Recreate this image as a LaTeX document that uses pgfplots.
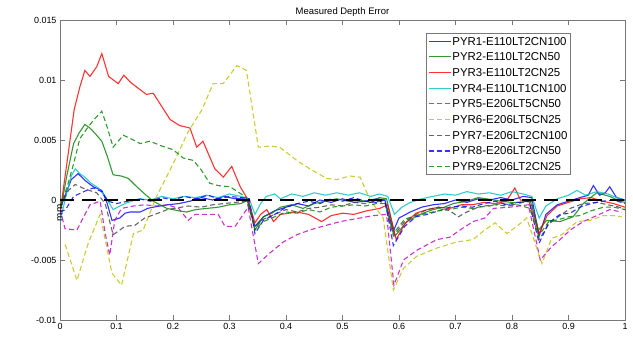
\documentclass[border=0pt]{standalone}
\usepackage{pgfplots}
\pgfplotsset{compat=1.18}
\usepackage{fontspec}
\setmainfont{Liberation Sans}
\definecolor{mgreen}{RGB}{0,128,0}
\definecolor{mcyan}{RGB}{0,191,191}
\definecolor{mmag}{RGB}{191,0,191}
\definecolor{myel}{RGB}{191,191,0}
\definecolor{mgray}{RGB}{64,64,64}
\definecolor{axgray}{RGB}{120,120,120}
\begin{document}
\begin{tikzpicture}
\begin{axis}[
  at={(0,0)}, anchor=south west,
  scale only axis, width=565bp, height=300bp,
  xmin=0, xmax=1, ymin=-0.01, ymax=0.015,
  scaled y ticks=false, scaled x ticks=false,
  xtick={0,0.1,0.2,0.3,0.4,0.5,0.6,0.7,0.8,0.9,1},
  xticklabels={0,0.1,0.2,0.3,0.4,0.5,0.6,0.7,0.8,0.9,1},
  ytick={-0.01,-0.005,0,0.005,0.01,0.015},
  yticklabels={-0.01,-0.005,0,0.005,0.01,0.015},
  tick align=inside, major tick length=5bp,
  xtick pos=both, ytick pos=both,
  axis line style={axgray}, tick style={axgray},
  ticklabel style={font=\fontsize{9}{10}\selectfont},
  every axis title shift=0pt,
  title={Measured Depth Error},
  title style={font=\fontsize{9.5}{11}\selectfont, at={(axis description cs:0.5,1)}, anchor=south, inner sep=2bp, yshift=1bp},
  ylabel={mm},
  ylabel style={font=\fontsize{10}{11}\selectfont, at={(axis description cs:0,0.5)}, anchor=center, xshift=-43bp},
  legend style={at={(axis description cs:0.648,0.957)}, anchor=north west,
    font=\fontsize{11.5}{12}\selectfont, draw=axgray, inner xsep=2bp, inner ysep=3bp,
    nodes={inner sep=1bp, text height=8bp, text depth=0bp}, row sep=5.7bp},
  legend cell align=left,
  legend image code/.code={\draw[#1] (0bp,0bp) -- (22bp,0bp);},
  every axis plot/.append style={line width=1.1bp, opacity=0.8},
]
\addplot[blue] table {
0 -0.0008
0.01 0.0005
0.02 0.0017
0.032 0.0022
0.045 0.0016
0.059 0.0011
0.074 0.0008
0.083 -0.0002
0.092 -0.0017
0.106 -0.0015
0.115 -0.0011
0.124 -0.0010
0.142 -0.0010
0.155 -0.0007
0.165 -0.0006
0.19 -0.0004
0.21 -0.0003
0.23 -0.0001
0.25 0.0002
0.27 0.0000
0.29 0.0003
0.31 0.0001
0.33 0.0002
0.345 -0.0022
0.36 -0.0014
0.38 -0.0009
0.40 -0.0006
0.42 -0.0003
0.44 -0.0005
0.46 0.0000
0.48 -0.0002
0.50 0.0001
0.52 -0.0002
0.54 -0.0001
0.56 0.0001
0.575 0.0000
0.59 -0.0026
0.60 -0.0015
0.62 -0.0010
0.64 -0.0006
0.66 -0.0004
0.68 -0.0003
0.70 0.0000
0.72 -0.0002
0.74 0.0001
0.76 0.0000
0.78 0.0002
0.80 0.0000
0.82 0.0003
0.835 0.0002
0.848 -0.0030
0.86 -0.0012
0.88 -0.0004
0.90 -0.0001
0.92 0.0002
0.935 0.0004
0.944 0.0012
0.955 0.0004
0.965 0.0006
0.973 0.0011
0.985 0.0002
1.0 0.0000
};
\addlegendentry{PYR1-E110LT2CN100}
\addplot[mgreen] table {
0 -0.0011
0.012 0.002
0.024 0.0047
0.034 0.0056
0.044 0.0063
0.053 0.0060
0.063 0.0055
0.074 0.0049
0.084 0.0036
0.094 0.0021
0.108 0.0020
0.121 0.0018
0.136 0.0011
0.15 0.0005
0.165 -0.0001
0.189 -0.0007
0.21 -0.0009
0.224 -0.0010
0.24 -0.0008
0.26 -0.0007
0.28 -0.0006
0.30 -0.0004
0.32 -0.0003
0.333 0.0000
0.345 -0.0025
0.36 -0.0014
0.375 -0.0011
0.39 -0.0006
0.41 -0.0004
0.43 -0.0007
0.45 -0.0003
0.47 -0.0001
0.49 0.0001
0.51 -0.0001
0.53 0.0000
0.55 -0.0002
0.565 0.0002
0.578 0.0001
0.593 -0.0030
0.614 -0.0018
0.637 -0.0012
0.66 -0.0008
0.68 -0.0006
0.696 -0.0003
0.72 -0.0001
0.74 0.0002
0.755 0.0001
0.78 -0.0001
0.80 -0.0002
0.814 -0.0002
0.832 0.0000
0.847 -0.0025
0.861 -0.0017
0.885 -0.0018
0.908 -0.0014
0.926 -0.0003
0.95 0.0006
0.973 0.0003
0.991 -0.0001
1.0 -0.0002
};
\addlegendentry{PYR2-E110LT2CN50}
\addplot[red] table {
0 -0.0011
0.012 0.0030
0.025 0.0075
0.035 0.0094
0.044 0.0108
0.053 0.0103
0.065 0.0111
0.074 0.0122
0.086 0.0103
0.103 0.0097
0.113 0.0104
0.125 0.0098
0.136 0.0094
0.153 0.0088
0.165 0.0089
0.18 0.0078
0.195 0.0067
0.212 0.0062
0.23 0.0060
0.242 0.0044
0.253 0.0049
0.274 0.0026
0.289 0.0019
0.304 0.0028
0.319 0.0011
0.333 0.0000
0.345 -0.0019
0.355 -0.0012
0.366 -0.0008
0.378 -0.0018
0.39 -0.0012
0.405 -0.0011
0.419 -0.0010
0.44 -0.0012
0.463 -0.0018
0.48 -0.0013
0.50 -0.0011
0.52 -0.0012
0.543 -0.0009
0.566 -0.0007
0.58 -0.0004
0.595 -0.0033
0.61 -0.0020
0.63 -0.0011
0.65 -0.0008
0.67 -0.0006
0.69 -0.0007
0.71 -0.0004
0.73 -0.0004
0.75 -0.0002
0.77 -0.0003
0.79 -0.0001
0.805 0.0010
0.815 0.0000
0.83 -0.0001
0.848 -0.0028
0.862 -0.0013
0.88 -0.0005
0.90 -0.0002
0.92 0.0001
0.94 0.0002
0.96 -0.0001
0.98 -0.0003
1.0 -0.0006
};
\addlegendentry{PYR3-E110LT2CN25}
\addplot[mcyan] table {
0 -0.0018
0.01 0.0002
0.02 0.0020
0.027 0.0026
0.035 0.0022
0.044 0.0019
0.055 0.0014
0.068 0.0010
0.08 0.0003
0.094 -0.0008
0.106 -0.0005
0.12 -0.0002
0.14 0.0001
0.16 0.0000
0.18 0.0003
0.20 0.0001
0.22 0.0003
0.24 0.0002
0.26 0.0004
0.28 0.0002
0.30 0.0005
0.32 0.0003
0.335 0.0001
0.345 -0.0012
0.355 -0.0003
0.365 0.0003
0.38 0.0005
0.39 0.0001
0.41 0.0005
0.43 0.0003
0.45 0.0006
0.47 0.0004
0.49 0.0006
0.51 0.0004
0.53 0.0006
0.55 0.0003
0.565 0.0005
0.58 0.0003
0.592 -0.0012
0.605 -0.0006
0.62 -0.0002
0.64 0.0001
0.66 0.0003
0.68 0.0005
0.70 0.0004
0.72 0.0007
0.74 0.0005
0.76 0.0006
0.78 0.0004
0.80 0.0007
0.82 0.0005
0.835 0.0003
0.848 -0.0015
0.86 -0.0005
0.88 0.0001
0.90 0.0004
0.915 0.0008
0.93 0.0004
0.95 0.0007
0.97 0.0005
0.985 0.0002
1.0 0.0000
};
\addlegendentry{PYR4-E110LT1CN100}
\addplot[mmag, dash pattern=on 5bp off 3bp] table {
0 -0.0008
0.009 -0.0024
0.03 -0.0025
0.053 -0.0004
0.071 -0.0001
0.08 -0.0028
0.088 -0.0046
0.097 -0.0017
0.109 -0.0007
0.13 -0.0005
0.15 -0.0004
0.17 -0.0005
0.19 -0.0004
0.21 -0.0007
0.227 -0.0017
0.239 -0.0012
0.26 -0.0012
0.28 -0.0012
0.292 -0.0022
0.31 -0.0022
0.333 -0.0006
0.351 -0.0053
0.372 -0.0044
0.395 -0.0035
0.419 -0.0029
0.442 -0.0025
0.472 -0.0021
0.496 -0.0018
0.531 -0.0015
0.555 -0.0013
0.578 -0.0012
0.591 -0.0071
0.608 -0.0050
0.631 -0.0042
0.667 -0.0033
0.69 -0.0031
0.708 -0.0025
0.731 -0.0018
0.752 -0.0015
0.767 -0.0007
0.796 -0.0006
0.829 -0.0004
0.85 -0.0050
0.87 -0.0039
0.885 -0.0033
0.903 -0.0025
0.926 -0.0018
0.95 -0.0013
0.973 -0.0008
0.994 -0.0010
};
\addlegendentry{PYR5-E206LT5CN50}
\addplot[myel, dash pattern=on 5bp off 3bp] table {
0.009 -0.0037
0.030 -0.0067
0.050 -0.0036
0.071 -0.0012
0.092 -0.0061
0.109 -0.0071
0.130 -0.0028
0.147 -0.0025
0.171 0.0003
0.2 0.0030
0.227 0.0057
0.251 0.0075
0.271 0.0097
0.289 0.0097
0.313 0.0112
0.330 0.0108
0.351 0.0044
0.372 0.0045
0.389 0.0044
0.419 0.0033
0.442 0.0026
0.472 0.0018
0.490 0.0017
0.513 0.0020
0.531 0.0019
0.549 0.0000
0.572 -0.0015
0.590 -0.0075
0.608 -0.0057
0.631 -0.0047
0.667 -0.0040
0.702 -0.0035
0.731 -0.0033
0.749 -0.0026
0.770 -0.0019
0.791 -0.0028
0.811 -0.0021
0.826 -0.0015
0.853 -0.0053
0.870 -0.0032
0.888 -0.0029
0.915 -0.0018
0.938 -0.0017
0.962 -0.0013
0.979 -0.0013
0.994 -0.0014
};
\addlegendentry{PYR6-E206LT5CN25}
\addplot[mgray, dash pattern=on 5bp off 3bp] table {
0 -0.0005
0.015 0.0008
0.027 0.0013
0.04 0.0010
0.052 0.0008
0.065 0.0006
0.08 -0.0003
0.094 -0.0029
0.115 -0.0022
0.133 -0.0021
0.15 -0.0015
0.168 -0.0012
0.19 -0.0008
0.227 -0.0005
0.25 -0.0006
0.27 -0.0004
0.29 -0.0003
0.31 -0.0002
0.33 -0.0001
0.345 -0.0022
0.36 -0.0016
0.38 -0.0012
0.40 -0.0008
0.42 -0.0010
0.44 -0.0007
0.46 -0.0006
0.48 -0.0004
0.50 -0.0005
0.52 -0.0002
0.54 -0.0003
0.56 -0.0001
0.575 -0.0002
0.59 -0.0030
0.61 -0.0018
0.63 -0.0012
0.65 -0.0008
0.67 -0.0006
0.69 -0.0009
0.705 -0.0014
0.72 -0.0010
0.74 -0.0006
0.76 -0.0005
0.78 -0.0003
0.80 -0.0004
0.82 -0.0002
0.835 -0.0001
0.848 -0.0033
0.865 -0.0020
0.885 -0.0013
0.903 -0.0007
0.926 -0.0003
0.95 -0.0002
0.97 -0.0004
0.99 -0.0006
1.0 -0.0008
};
\addlegendentry{PYR7-E206LT2CN100}
\addplot[blue, dash pattern=on 5bp off 3bp] table {
0 -0.0010
0.01 -0.0008
0.024 0.0003
0.047 0.0008
0.059 0.0010
0.074 0.0007
0.085 -0.0001
0.10 -0.0003
0.12 -0.0001
0.14 0.0001
0.16 -0.0001
0.18 0.0002
0.20 0.0000
0.22 0.0003
0.24 0.0001
0.262 0.0004
0.28 0.0001
0.30 0.0003
0.32 0.0002
0.335 0.0001
0.345 -0.0028
0.36 -0.0017
0.38 -0.0012
0.40 -0.0006
0.42 -0.0003
0.44 -0.0001
0.46 -0.0003
0.48 0.0001
0.50 -0.0001
0.52 0.0002
0.54 -0.0001
0.56 -0.0002
0.575 0.0000
0.59 -0.0038
0.61 -0.0022
0.63 -0.0014
0.65 -0.0012
0.67 -0.0009
0.69 -0.0006
0.71 -0.0005
0.73 -0.0006
0.75 -0.0003
0.77 -0.0001
0.79 -0.0004
0.81 -0.0002
0.83 -0.0001
0.848 -0.0036
0.865 -0.0019
0.885 -0.0012
0.903 -0.0011
0.92 -0.0006
0.94 -0.0003
0.96 -0.0001
0.98 0.0000
1.0 -0.0003
};
\addlegendentry{PYR8-E206LT2CN50}
\addplot[mgreen, dash pattern=on 5bp off 3bp] table {
0 -0.0006
0.012 0.0010
0.024 0.0030
0.035 0.0051
0.05 0.0061
0.062 0.0068
0.074 0.0074
0.084 0.0060
0.094 0.0044
0.112 0.0054
0.13 0.0050
0.142 0.0047
0.159 0.0049
0.18 0.0045
0.2 0.0042
0.218 0.0035
0.236 0.0033
0.25 0.0025
0.265 0.0014
0.28 0.0012
0.301 0.0011
0.324 0.0004
0.333 0.0000
0.345 -0.0025
0.36 -0.0018
0.38 -0.0014
0.40 -0.0010
0.42 -0.0011
0.44 -0.0008
0.46 -0.0010
0.48 -0.0006
0.50 -0.0005
0.52 -0.0004
0.54 -0.0005
0.56 -0.0003
0.575 -0.0003
0.59 -0.0028
0.61 -0.0016
0.63 -0.0013
0.65 -0.0011
0.67 -0.0009
0.69 -0.0008
0.71 -0.0006
0.73 -0.0007
0.75 -0.0005
0.77 -0.0004
0.79 -0.0005
0.81 -0.0004
0.832 -0.0007
0.847 -0.0030
0.865 -0.0018
0.885 -0.0016
0.90 -0.0014
0.92 -0.0013
0.94 -0.0009
0.962 -0.0006
0.98 -0.0006
1.0 -0.0008
};
\addlegendentry{PYR9-E206LT2CN25}
\addplot[black, line width=2.5bp, opacity=1, dash pattern=on 14bp off 8bp, forget plot] coordinates {(0,0) (1,0)};
\end{axis}
\pgfresetboundingbox
\path[use as bounding box] (-60bp,-18bp) rectangle (573bp,320bp);
\end{tikzpicture}
\end{document}
